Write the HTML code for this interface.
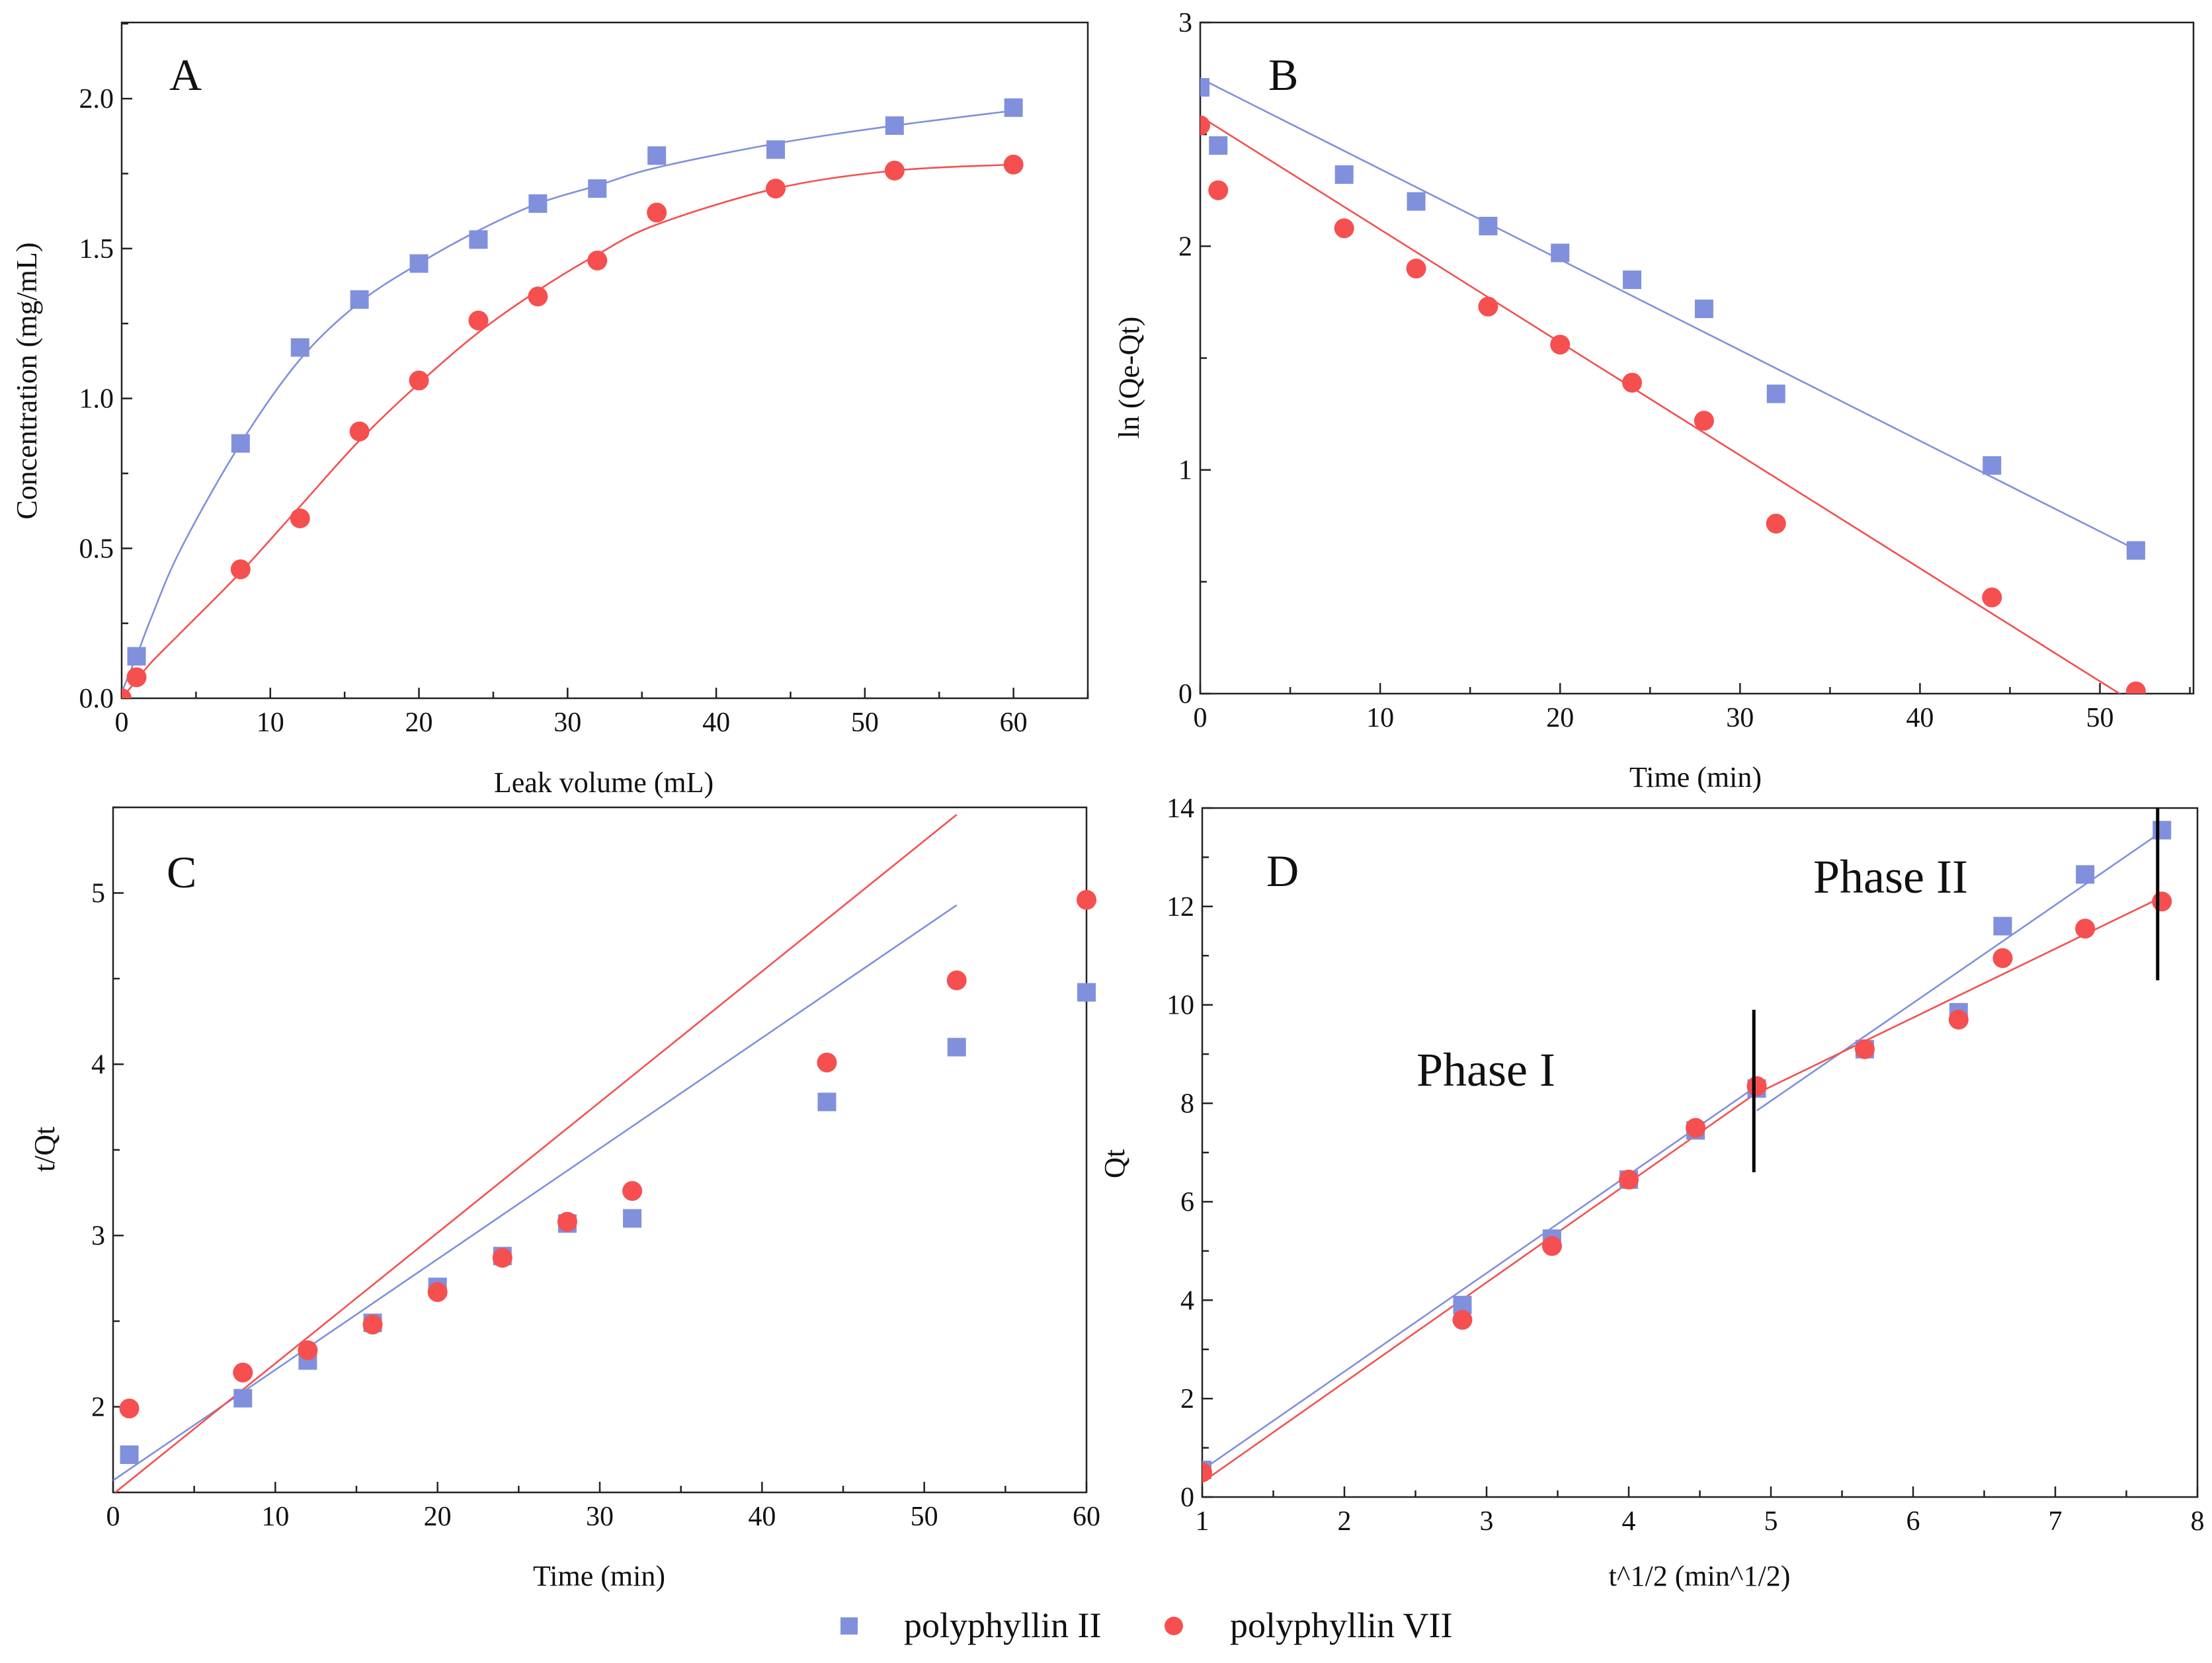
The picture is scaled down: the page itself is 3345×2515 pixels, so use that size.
<!DOCTYPE html>
<html><head><meta charset="utf-8">
<style>
html,body{margin:0;padding:0;background:#fff;}
svg{display:block;font-family:"Liberation Serif",serif;}
</style></head>
<body>
<svg id="fig" width="3345" height="2515" viewBox="0 0 3345 2515" xmlns="http://www.w3.org/2000/svg"></svg>
<script>
// ---- Panel A data ----
const aX = [0,1,8,12,16,20,24,28,32,36,44,52,60];
const aBlue = [null,0.14,0.85,1.17,1.33,1.45,1.53,1.65,1.70,1.81,1.83,1.91,1.97];
const aRed = [0.0,0.07,0.43,0.60,0.89,1.06,1.26,1.34,1.46,1.62,1.70,1.76,1.78];
const aFitX = [0,1,2,4,8,12,16,20,24,28,32,36,44,52,60];
const aBlueFit = [0.02,0.14,0.27,0.5,0.85,1.13,1.32,1.45,1.56,1.65,1.71,1.77,1.85,1.91,1.96];
const aRedFit = [0,0.06,0.12,0.22,0.42,0.64,0.86,1.05,1.22,1.36,1.48,1.58,1.70,1.76,1.78];
// ---- Panel B data ----
const bX = [0,1,8,12,16,20,24,28,32,44,52];
const bBlue = [2.71,2.45,2.32,2.20,2.09,1.97,1.85,1.72,1.34,1.02,0.64];
const bRed = [2.54,2.25,2.08,1.90,1.73,1.56,1.39,1.22,0.76,0.43,0.01];
const bBlueLine = [2.75,-0.0405]; // intercept, slope
const bRedLine = [2.58,-0.0505];
const bLineX = [0,52];
// ---- Panel C data ----
const cX = [1,8,12,16,20,24,28,32,44,52,60];
const cBlue = [1.72,2.05,2.27,2.49,2.70,2.88,3.07,3.10,3.78,4.10,4.42];
const cRed = [1.99,2.20,2.33,2.48,2.67,2.87,3.08,3.26,4.01,4.49,4.96];
const cBlueLine = [1.57,0.0646];
const cRedLine = [1.49,0.0763];
const cLineX = [0,52];
// ---- Panel D data ----
const dX = [1,2.83,3.46,4,4.47,4.9,5.66,6.32,6.63,7.21,7.75];
const dBlue = [0.55,3.9,5.25,6.45,7.45,8.3,9.1,9.85,11.6,12.65,13.55];
const dRed = [0.5,3.6,5.1,6.45,7.5,8.35,9.1,9.7,10.95,11.55,12.1];
const dBlueLines = [[1,4.9,0.55,2.0],[4.9,7.72,7.85,1.99]]; // x0,x1,y0,slope
const dRedLines = [[1,4.9,0.3,2.03],[4.9,7.72,8.2,1.40]];
const dDividers = [[4.88,6.6,9.9],[7.72,10.5,14]];

const NS="http://www.w3.org/2000/svg";
const svg=document.getElementById('fig');
const BLUE="#8090dd", RED="#f54f4f";
function mk(tag,attrs,parent){const e=document.createElementNS(NS,tag);for(const k in attrs)e.setAttribute(k,attrs[k]);(parent||svg).appendChild(e);return e;}
function txt(s,x,y,size,anchor,parent,rot){const t=mk('text',{x:x,y:y,'font-size':size,'text-anchor':anchor||'middle',fill:'#111'},parent);if(rot)t.setAttribute('transform','rotate(-90 '+x+' '+y+')');t.textContent=s;return t;}

function panel(cfg){
  const g=mk('g',{});
  
  
  const sx=v=>cfg.L+(v-cfg.xmin)/(cfg.xmax-cfg.xmin)*(cfg.R-cfg.L);
  const sy=v=>cfg.B-(v-cfg.ymin)/(cfg.ymax-cfg.ymin)*(cfg.B-cfg.T);
  const fr=mk('rect',{x:cfg.L,y:cfg.T,width:cfg.R-cfg.L,height:cfg.B-cfg.T,fill:'none',stroke:'#222','stroke-width':2.5},g);
  
  
  for(let v=cfg.xmin;v<=cfg.xmax+1e-9;v+=cfg.xminor){
    const major=Math.abs(v/cfg.xmajor-Math.round(v/cfg.xmajor))<1e-6;
    mk('line',{x1:sx(v),x2:sx(v),y1:cfg.B,y2:cfg.B-(major?16:10),stroke:'#222','stroke-width':2.5},g);
    if(major){const t=txt(cfg.xfmt(v),sx(v),cfg.B+50,42,'middle',g);
      
      }
  }
  for(let v=cfg.ymin;v<=cfg.ymax+1e-9;v+=cfg.yminor){
    const major=Math.abs(v/cfg.ymajor-Math.round(v/cfg.ymajor))<1e-6;
    mk('line',{x1:cfg.L,x2:cfg.L+(major?16:10),y1:sy(v),y2:sy(v),stroke:'#222','stroke-width':2.5},g);
    if(major){const t=txt(cfg.yfmt(v),cfg.L-12,sy(v)+14,42,'end',g);
      
      }
  }
  const xt=txt(cfg.xtitle,cfg.xtx,cfg.xty,44,'middle',g);
  
  
  const yt=txt(cfg.ytitle,cfg.ytx,cfg.yty,44,'middle',g,true);
  
  
  const lt=txt(cfg.letter,cfg.lx,cfg.ly,68,'start',g);
  
  
  const clip='clip'+cfg.letter;
  const cp=mk('clipPath',{id:clip},g);mk('rect',{x:cfg.L,y:cfg.T-20,width:cfg.R-cfg.L+20,height:cfg.B-cfg.T+20},cp);
  const plot=mk('g',{'clip-path':'url(#'+clip+')'},g);
  return {g,sx,sy,plot};
}
function squares(p,xs,ys){
  xs.forEach((x,i)=>{if(ys[i]==null)return;
    const r=mk('rect',{x:p.sx(x)-14,y:p.sy(ys[i])-14,width:28,height:28,fill:BLUE},p.plot);
    
    });
}
function circles(p,xs,ys){
  xs.forEach((x,i)=>{if(ys[i]==null)return;
    const c=mk('circle',{cx:p.sx(x),cy:p.sy(ys[i]),r:15,fill:RED},p.plot);
    
    });
}
function smooth(p,xs,ys,color,name){
  const pts=xs.map((x,i)=>[p.sx(x),p.sy(ys[i])]);
  let d='M'+pts[0][0]+','+pts[0][1];
  for(let i=0;i<pts.length-1;i++){
    const p0=pts[Math.max(0,i-1)],p1=pts[i],p2=pts[i+1],p3=pts[Math.min(pts.length-1,i+2)];
    const c1=[p1[0]+(p2[0]-p0[0])/6,p1[1]+(p2[1]-p0[1])/6];
    const c2=[p2[0]-(p3[0]-p1[0])/6,p2[1]-(p3[1]-p1[1])/6];
    d+=' C'+c1[0]+','+c1[1]+' '+c2[0]+','+c2[1]+' '+p2[0]+','+p2[1];
  }
  const e=mk('path',{d:d,fill:'none',stroke:color,'stroke-width':2.6},p.plot);
  
  
}
function line(p,x0,x1,b,m,color,name,xref){
  const r=xref||0;
  const e=mk('line',{x1:p.sx(x0),y1:p.sy(b+m*(x0-r)),x2:p.sx(x1),y2:p.sy(b+m*(x1-r)),stroke:color,'stroke-width':2.6},p.plot);
  
  
}
const f1=v=>v.toFixed(1), f0=v=>String(Math.round(v));

// Panel A
const pA=panel({name:'panel-a',L:184,R:1645,T:34,B:1056,xmin:0,xmax:65,ymin:0,ymax:2.254,xmajor:10,xminor:5,ymajor:0.5,yminor:0.25,xfmt:f0,yfmt:f1,
  xtitle:'Leak volume (mL)',xtx:913,xty:1198,ytitle:'Concentration (mg/mL)',ytx:55,yty:576,letter:'A',lx:256,ly:136});
smooth(pA,aFitX,aBlueFit,BLUE,'polyphyllin-ii-fit');
smooth(pA,aFitX,aRedFit,RED,'polyphyllin-vii-fit');
squares(pA,aX,aBlue);circles(pA,aX,aRed);

// Panel B
const pB=panel({name:'panel-b',L:1815,R:3317,T:34,B:1049,xmin:0,xmax:55.2,ymin:0,ymax:3,xmajor:10,xminor:5,ymajor:1,yminor:0.5,xfmt:f0,yfmt:f0,
  xtitle:'Time (min)',xtx:2564,xty:1190,ytitle:'ln  (Qe-Qt)',ytx:1722,yty:571,letter:'B',lx:1918,ly:136});
line(pB,bLineX[0],bLineX[1],bBlueLine[0],bBlueLine[1],BLUE,'polyphyllin-ii-fit');
line(pB,bLineX[0],bLineX[1],bRedLine[0],bRedLine[1],RED,'polyphyllin-vii-fit');
squares(pB,bX,bBlue);circles(pB,bX,bRed);

// Panel C
const pC=panel({name:'panel-c',L:171,R:1643,T:1221,B:2257,xmin:0,xmax:60,ymin:1.5,ymax:5.5,xmajor:10,xminor:5,ymajor:1,yminor:0.5,xfmt:f0,yfmt:f0,
  xtitle:'Time (min)',xtx:906,xty:2398,ytitle:'t/Qt',ytx:82,yty:1738,letter:'C',lx:252,ly:1342});
line(pC,cLineX[0],cLineX[1],cBlueLine[0],cBlueLine[1],BLUE,'polyphyllin-ii-fit');
line(pC,cLineX[0],cLineX[1],cRedLine[0],cRedLine[1],RED,'polyphyllin-vii-fit');
squares(pC,cX,cBlue);circles(pC,cX,cRed);

// Panel D
const pD=panel({name:'panel-d',L:1818,R:3323,T:1222,B:2264,xmin:1,xmax:8,ymin:0,ymax:14,xmajor:1,xminor:0.5,ymajor:2,yminor:1,xfmt:f0,yfmt:f0,
  xtitle:'t^1/2 (min^1/2)',xtx:2570,xty:2398,ytitle:'Qt',ytx:1700,yty:1760,letter:'D',lx:1915,ly:1340});
dBlueLines.forEach(s=>line(pD,s[0],s[1],s[2],s[3],BLUE,'polyphyllin-ii-fit',s[0]));
dRedLines.forEach(s=>line(pD,s[0],s[1],s[2],s[3],RED,'polyphyllin-vii-fit',s[0]));
squares(pD,dX,dBlue);circles(pD,dX,dRed);
dDividers.forEach(s=>{const e=mk('line',{x1:pD.sx(s[0]),x2:pD.sx(s[0]),y1:pD.sy(s[1]),y2:pD.sy(s[2]),stroke:'#000','stroke-width':5});
  
  });
const ph1=txt('Phase I',2142,1642,72,'start');


const ph2=txt('Phase II',2742,1350,72,'start');



// Legend
const lg=mk('g',{});


const ls=mk('rect',{x:1271,y:2446,width:26,height:26,fill:BLUE},lg);


const lt1=txt('polyphyllin II',1367,2476,54,'start',lg);


const lc=mk('circle',{cx:1775,cy:2459,r:14,fill:RED},lg);


const lt2=txt('polyphyllin VII',1860,2476,54,'start',lg);


</script>
</body></html>
